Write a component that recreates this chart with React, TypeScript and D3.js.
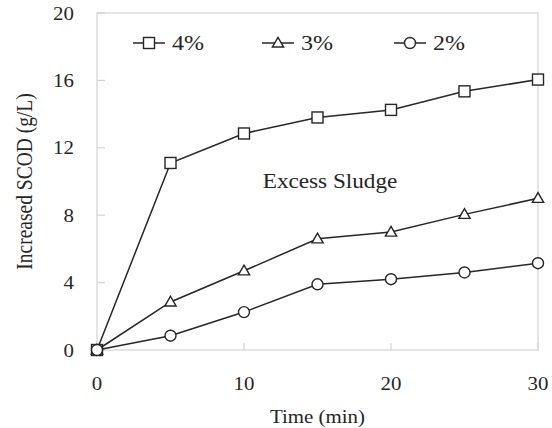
import React from "react";
import * as d3 from "d3";

const times = [0, 5, 10, 15, 20, 25, 30];
const s4 = [0, 11.1, 12.85, 13.8, 14.25, 15.35, 16.05];
const s3 = [0, 2.85, 4.7, 6.6, 7.0, 8.05, 9.0];
const s2 = [0, 0.85, 2.25, 3.9, 4.2, 4.6, 5.15];
const seriesNames = ["4%", "3%", "2%"];
const seriesShapes = ["square", "triangle", "circle"];
const xTicks = [0, 10, 20, 30];
const yTicks = [0, 4, 8, 12, 16, 20];

const W = 552, H = 428;
const M = { left: 97, right: 14, top: 13, bottom: 78 };
const font = "'Liberation Serif', 'Times New Roman', serif";
const ink = "#262626";

function T({ x, y, sx, size, anchor, children, rotate }: any) {
  return (
    <g transform={`translate(${x},${y}) scale(${sx},1)${rotate ? ` rotate(${rotate})` : ""}`}>
      <text x={0} y={0} textAnchor={anchor || "start"} style={{ fontFamily: font, fontSize: size }} fill={ink}>{children}</text>
    </g>
  );
}

function Marker({ shape, x, y }: { shape: string; x: number; y: number }) {
  const st = { fill: "#fff", stroke: ink, strokeWidth: 1.4 };
  if (shape === "square") return <rect x={x - 5.5} y={y - 5.5} width={11} height={11} {...st} />;
  if (shape === "circle") return <circle cx={x} cy={y} r={5.5} {...st} />;
  const p = d3.symbol().type(d3.symbolTriangle).size(55)();
  return <path d={p || ""} transform={`translate(${x},${y + 0.8})`} {...st} />;
}

export default function App() {
  const x = d3.scaleLinear().domain([0, 30]).range([M.left, W - M.right]);
  const y = d3.scaleLinear().domain([0, 20]).range([H - M.bottom, M.top]);
  const data = [s4, s3, s2];
  const line = d3.line<number>().x((_, i) => x(times[i])).y((d) => y(d));
  const legendX = [149, 278, 410];
  const legendY = 43;
  return (
    <svg width={W} height={H} style={{ position: "absolute", left: 0, top: 0, background: "#fff" }}>
      <rect x={M.left} y={M.top} width={W - M.left - M.right} height={H - M.top - M.bottom} fill="none" stroke="#d2d2d2" strokeWidth={1.2} />
      {yTicks.map((t) => (
        <g key={"y" + t}>
          <line x1={M.left} x2={M.left + 8} y1={y(t)} y2={y(t)} stroke="#d2d2d2" strokeWidth={1.2} />
          <T x={M.left - 23} y={y(t) + 6.5} sx={1.1} size={19} anchor="end">{t}</T>
        </g>
      ))}
      {xTicks.map((t) => (
        <g key={"x" + t}>
          <line x1={x(t)} x2={x(t)} y1={y(0)} y2={y(0) - 7} stroke="#d2d2d2" strokeWidth={1.2} />
          <T x={x(t)} y={y(0) + 39.5} sx={1.1} size={19} anchor="middle">{t}</T>
        </g>
      ))}
      <T x={(M.left + W - M.right) / 2} y={423} sx={1.1} size={19} anchor="middle">Time (min)</T>
      <T x={32} y={(M.top + H - M.bottom) / 2} sx={1.2} size={19.5} anchor="middle" rotate={-90}>Increased SCOD (g/L)</T>
      <T x={330} y={188} sx={1.16} size={20} anchor="middle">Excess Sludge</T>
      {data.map((s, k) => (
        <g key={k}>
          <path d={line(s) || ""} fill="none" stroke={ink} strokeWidth={1.5} />
          {s.map((v, i) => <Marker key={i} shape={seriesShapes[k]} x={x(times[i])} y={y(v)} />)}
        </g>
      ))}
      {seriesNames.map((n, k) => (
        <g key={n}>
          <line x1={legendX[k] - 16} x2={legendX[k] + 16} y1={legendY} y2={legendY} stroke={ink} strokeWidth={1.5} />
          <Marker shape={seriesShapes[k]} x={legendX[k]} y={legendY} />
          <T x={legendX[k] + 23} y={legendY + 7} sx={1.2} size={20}>{n}</T>
        </g>
      ))}
    </svg>
  );
}
